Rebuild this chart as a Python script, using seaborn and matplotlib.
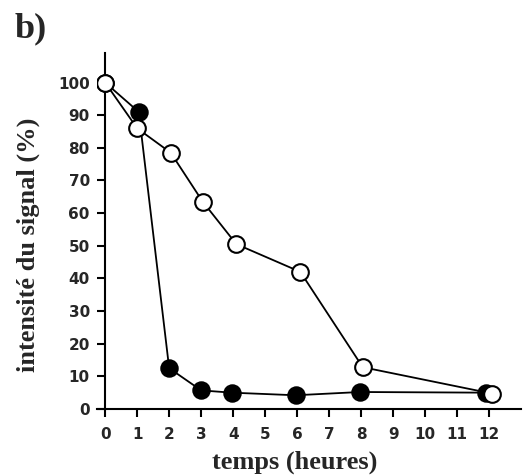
import matplotlib
matplotlib.use("Agg")
import matplotlib.pyplot as plt
import seaborn as sns
import pandas as pd

# data
hours_open = [0, 1.0, 2.05, 3.05, 4.1, 6.1, 8.05, 12.1]
signal_open = [100, 86, 78.5, 63.5, 50.5, 42, 12.8, 4.7]
hours_filled = [0, 1.05, 2.0, 3.0, 3.95, 5.95, 7.97, 11.9]
signal_filled = [100, 91, 12.5, 5.7, 5.0, 4.2, 5.2, 5.0]
xticks = list(range(0, 13))
yticks = list(range(0, 101, 10))

sns.set_style("white")
plt.rcParams['font.family'] = ['DejaVu Sans']

fig = plt.figure(figsize=(5.28, 4.75), dpi=100)
ax = fig.add_axes([0.184, 0.139, 0.803, 0.749])

df_f = pd.DataFrame({"h": hours_filled, "s": signal_filled})
df_o = pd.DataFrame({"h": hours_open, "s": signal_open})

sns.lineplot(data=df_f, x="h", y="s", ax=ax, color="black", lw=1.3,
             marker="o", markersize=12, markerfacecolor="black",
             markeredgecolor="black", markeredgewidth=1.3, sort=False, zorder=3)
sns.lineplot(data=df_o, x="h", y="s", ax=ax, color="black", lw=1.3,
             marker="o", markersize=12, markerfacecolor="white",
             markeredgecolor="black", markeredgewidth=1.5, sort=False, zorder=4)

ax.set_xlim(-0.25, 13.0)
ax.set_ylim(0, 109)
ax.spines['left'].set_position(('data', 0))
ax.spines['right'].set_visible(False)
ax.spines['top'].set_visible(False)
for s in ['left', 'bottom']:
    ax.spines[s].set_color('black')
    ax.spines[s].set_linewidth(1.5)

ax.set_xticks(xticks)
ax.set_yticks(yticks)
ax.set_xticklabels([str(t) for t in xticks], fontsize=11, fontweight='heavy')
ax.set_yticklabels([str(t) for t in yticks], fontsize=11, fontweight='heavy')
ax.tick_params(axis='both', direction='out', length=6, width=1.5, color='black',
               bottom=True, left=True)
ax.tick_params(axis='x', pad=7)
ax.tick_params(axis='y', pad=5)

ax.set_xlabel("temps (heures)", family=['Liberation Serif'], fontweight='bold',
              fontsize=19)
ax.set_ylabel("intensité du signal (%)", family=['Liberation Serif'], fontweight='bold',
              fontsize=19)
ax.xaxis.set_label_coords((295 - 97) / 424, (409 - 451) / 356)
ax.yaxis.set_label_coords((40 - 97) / 424, (409 - 245) / 356)

fig.text(0.028, 1 - 37 / 475, "b)", family=['Liberation Serif'], fontweight='bold',
         fontsize=26, va='baseline')

fig.savefig("out.png", dpi=100)
